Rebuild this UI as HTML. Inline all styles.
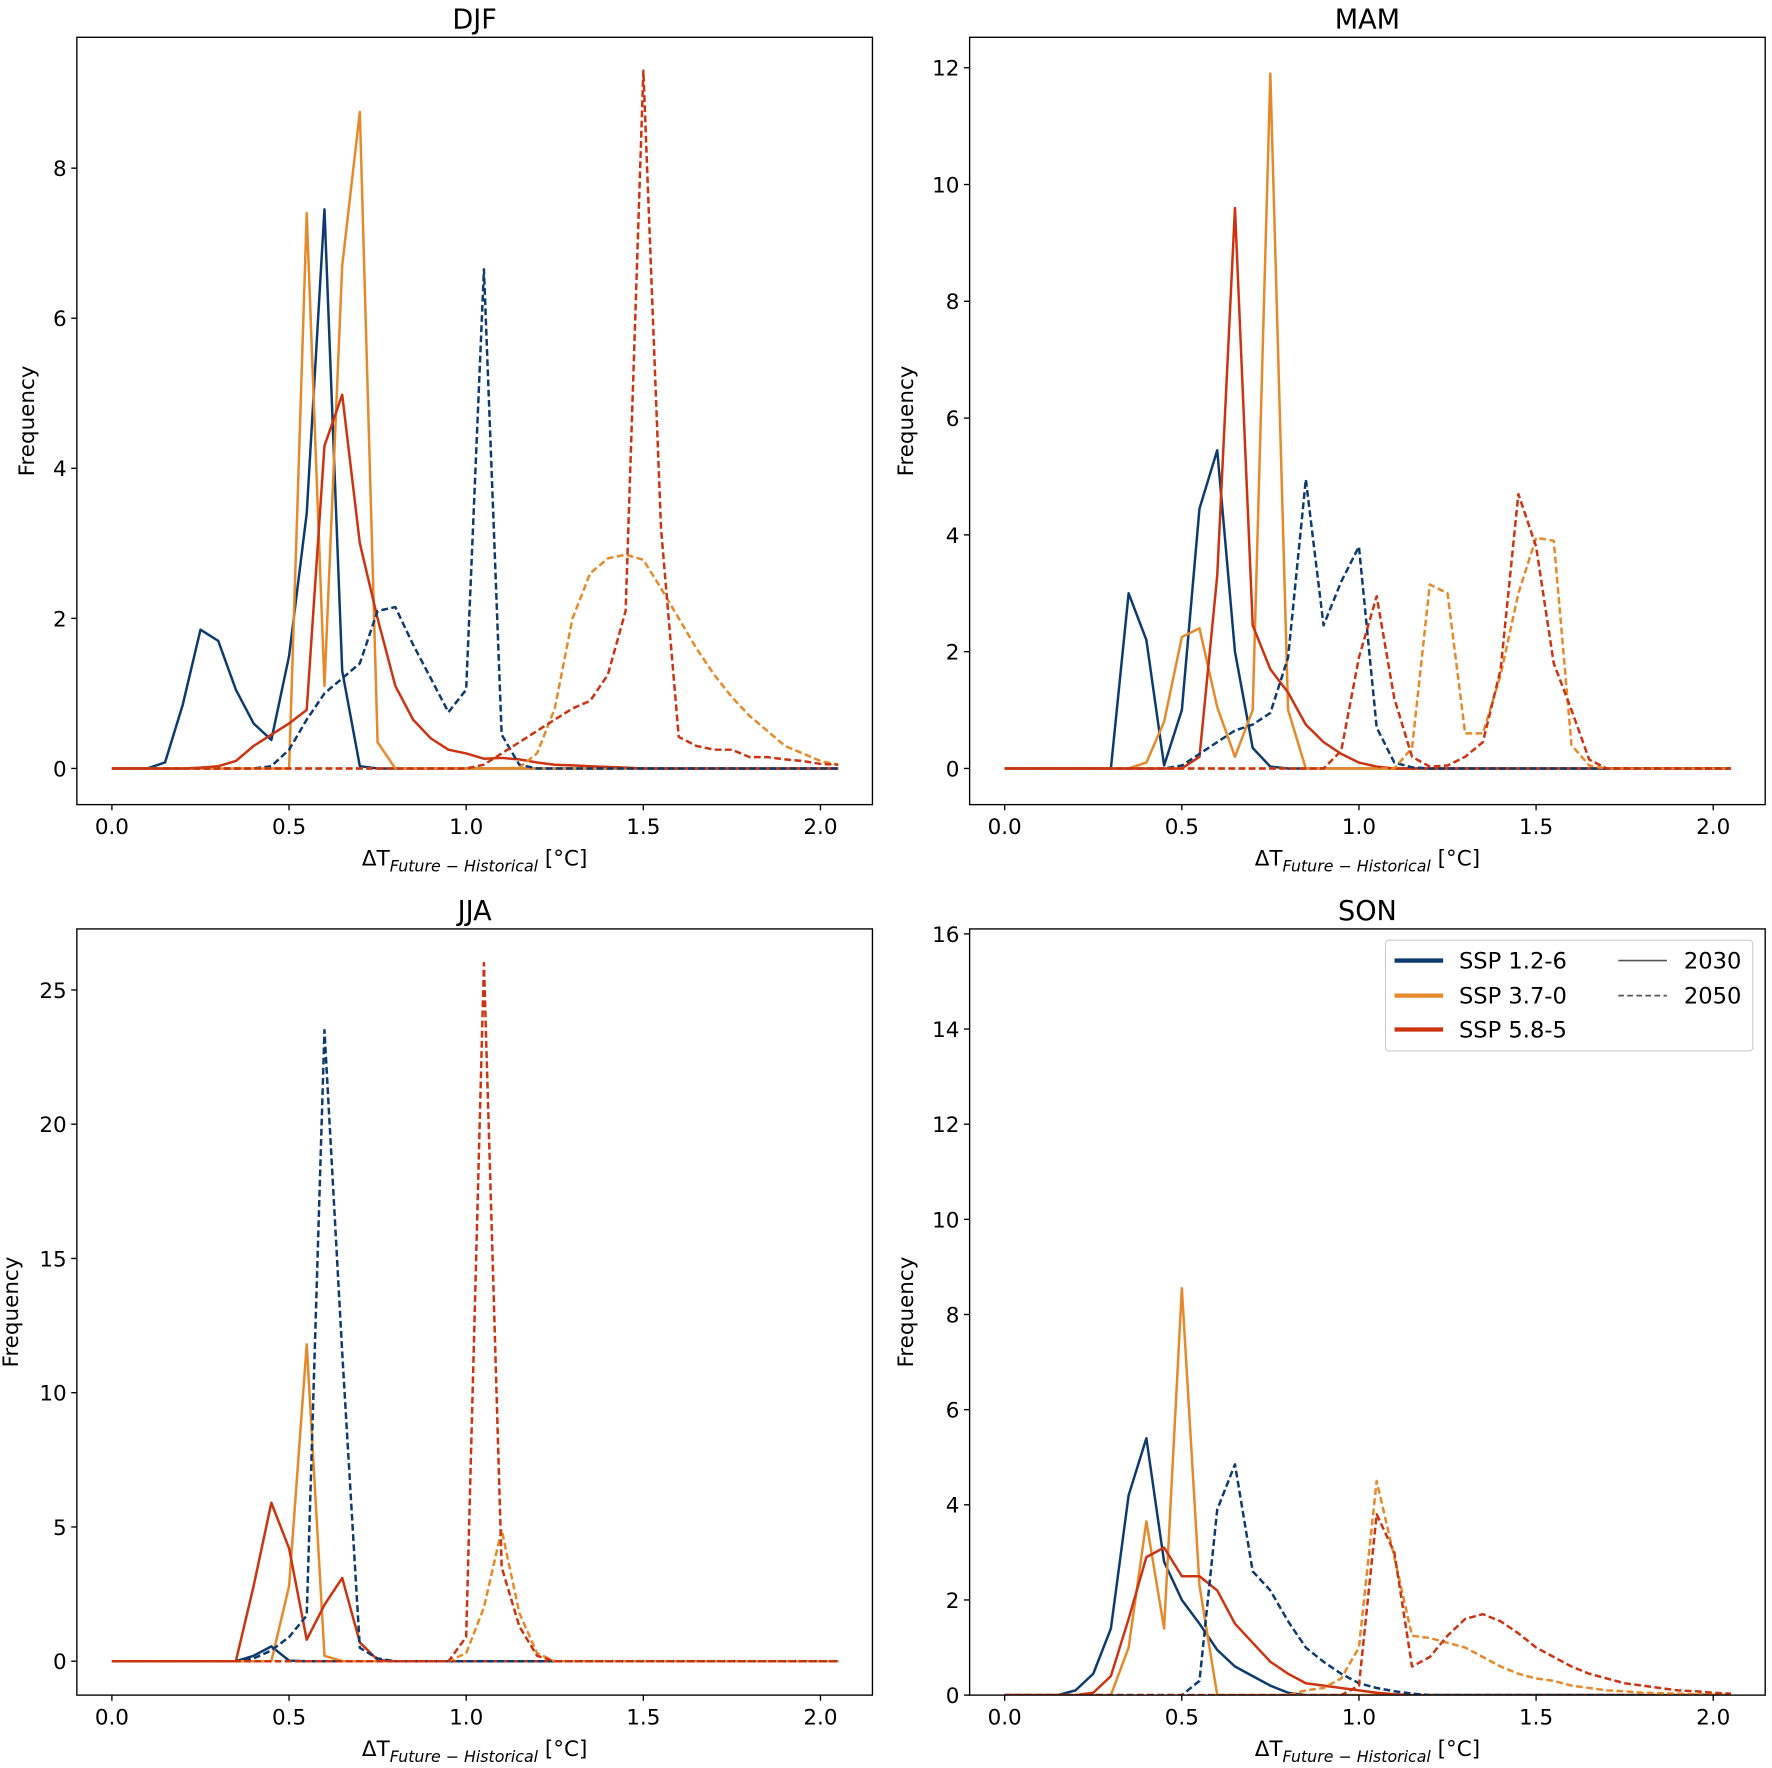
<!DOCTYPE html>
<html><head><meta charset="utf-8"><style>
html,body{margin:0;padding:0;background:#fff;}
svg{display:block;font-family:"DejaVu Sans","Liberation Sans",sans-serif;}
</style></head><body>
<svg id="s" width="1772" height="1768" viewBox="0 0 1568 1564.5" xmlns="http://www.w3.org/2000/svg">
<rect width="1568" height="1565" fill="#fff"/>
<text x="420" y="25" font-size="24" text-anchor="middle">DJF</text>
<text x="1210" y="25" font-size="24" text-anchor="middle">MAM</text>
<text x="420" y="814" font-size="24" text-anchor="middle">JJA</text>
<text x="1210" y="814" font-size="24" text-anchor="middle">SON</text>
</svg>
<script>
const NS="http://www.w3.org/2000/svg";const S=document.getElementById('s');
function el(t,a,txt){const e=document.createElementNS(NS,t);for(const k in a)e.setAttribute(k,a[k]);if(txt!==undefined)e.textContent=txt;S.appendChild(e);return e;}
const B='#0d3b6e',O='#e5892a',R='#cc3311';
const P=[
{l:68,r:772,t:33,b:712,x0:99,xs:313.5,y0:680,ys:66.4,yt:[0,2,4,6,8],yl:30,
 s:[[B,0,{0.1:0,0.15:0.08,0.2:0.85,0.25:1.85,0.3:1.7,0.35:1.05,0.4:0.6,0.45:0.38,0.5:1.5,0.55:3.4,0.6:7.45,0.65:1.3,0.7:0.03}],
 [O,0,{0.55:7.4,0.6:1.1,0.65:6.7,0.7:8.75,0.75:0.35}],
 [R,0,{0.25:0.01,0.3:0.03,0.35:0.1,0.4:0.3,0.45:0.45,0.5:0.6,0.55:0.78,0.6:4.3,0.65:4.98,0.7:3.0,0.75:2.0,0.8:1.1,0.85:0.65,0.9:0.4,0.95:0.25,1.0:0.2,1.05:0.13,1.1:0.14,1.15:0.12,1.2:0.08,1.25:0.05,1.3:0.04,1.35:0.03,1.4:0.02,1.45:0.01}],
 [B,1,{0.45:0.03,0.5:0.25,0.55:0.65,0.6:1.0,0.65:1.2,0.7:1.4,0.75:2.1,0.8:2.15,0.85:1.65,0.9:1.2,0.95:0.75,1.0:1.05,1.05:6.65,1.1:0.45,1.15:0.05}],
 [O,1,{1.15:0.01,1.2:0.2,1.25:0.8,1.3:2.0,1.35:2.6,1.4:2.8,1.45:2.85,1.5:2.78,1.55:2.4,1.6:2.0,1.65:1.6,1.7:1.25,1.75:0.95,1.8:0.7,1.85:0.5,1.9:0.3,1.95:0.2,2.0:0.1,2.05:0.05}],
 [R,1,{1.05:0.05,1.1:0.2,1.15:0.35,1.2:0.5,1.25:0.65,1.3:0.8,1.35:0.9,1.4:1.25,1.45:2.1,1.5:9.3,1.55:3.2,1.6:0.42,1.65:0.3,1.7:0.25,1.75:0.25,1.8:0.15,1.85:0.15,1.9:0.12,1.95:0.1,2.0:0.06,2.05:0.05}]]},
{l:858,r:1562,t:33,b:712,x0:889,xs:313.5,y0:680,ys:51.67,yt:[0,2,4,6,8,10,12],yl:808,
 s:[[B,0,{0.35:3.0,0.4:2.2,0.45:0.05,0.5:1.0,0.55:4.45,0.6:5.45,0.65:2.0,0.7:0.35,0.75:0.03}],
 [O,0,{0.4:0.1,0.45:0.8,0.5:2.25,0.55:2.4,0.6:1.05,0.65:0.2,0.7:1.0,0.75:11.9,0.8:1.0}],
 [R,0,{0.55:0.2,0.6:3.3,0.65:9.6,0.7:2.45,0.75:1.7,0.8:1.3,0.85:0.75,0.9:0.45,0.95:0.25,1.0:0.1,1.05:0.03}],
 [B,1,{0.5:0.05,0.55:0.25,0.6:0.45,0.65:0.65,0.7:0.75,0.75:0.95,0.8:1.9,0.85:4.95,0.9:2.45,0.95:3.2,1.0:3.8,1.05:0.7,1.1:0.1,1.15:0.02}],
 [O,1,{1.15:0.35,1.2:3.15,1.25:3.0,1.3:0.6,1.35:0.6,1.4:1.6,1.45:3.0,1.5:3.95,1.55:3.9,1.6:0.4,1.65:0.05}],
 [R,1,{0.95:0.3,1.0:1.9,1.05:2.95,1.1:1.2,1.15:0.2,1.2:0.03,1.25:0.05,1.3:0.2,1.35:0.45,1.4:1.7,1.45:4.7,1.5:3.8,1.55:1.8,1.6:1.0,1.65:0.15}]]},
{l:68,r:772,t:822,b:1500,x0:99,xs:313.5,y0:1470,ys:23.76,yt:[0,5,10,15,20,25],yl:16,
 s:[[B,0,{0.4:0.2,0.45:0.55,0.5:0.02}],
 [O,0,{0.5:2.8,0.55:11.8,0.6:0.2}],
 [R,0,{0.4:2.8,0.45:5.9,0.5:4.2,0.55:0.8,0.6:2.1,0.65:3.1,0.7:0.7,0.75:0.05}],
 [B,1,{0.4:0.1,0.45:0.4,0.5:0.9,0.55:1.7,0.6:23.5,0.65:11.5,0.7:0.5,0.75:0.1}],
 [O,1,{1.0:0.3,1.05:2.0,1.1:4.9,1.15:1.8,1.2:0.3}],
 [R,1,{1.0:0.9,1.05:26,1.1:3.5,1.15:1.3,1.2:0.2}]]},
{l:858,r:1562,t:822,b:1500,x0:889,xs:313.5,y0:1500,ys:42.1,yt:[0,2,4,6,8,10,12,14,16],yl:808,
 s:[[B,0,{0.2:0.1,0.25:0.45,0.3:1.4,0.35:4.2,0.4:5.4,0.45:2.8,0.5:2.0,0.55:1.5,0.6:0.95,0.65:0.6,0.7:0.4,0.75:0.2,0.8:0.05}],
 [O,0,{0.35:1.0,0.4:3.65,0.45:1.4,0.5:8.55,0.55:2.3}],
 [R,0,{0.25:0.05,0.3:0.4,0.35:1.6,0.4:2.9,0.45:3.1,0.5:2.5,0.55:2.5,0.6:2.2,0.65:1.5,0.7:1.1,0.75:0.7,0.8:0.45,0.85:0.25,0.9:0.2,0.95:0.15,1.0:0.1,1.05:0.05,1.1:0.02}],
 [B,1,{0.55:0.3,0.6:3.9,0.65:4.85,0.7:2.6,0.75:2.2,0.8:1.55,0.85:1.0,0.9:0.7,0.95:0.45,1.0:0.25,1.05:0.15,1.1:0.08,1.15:0.03}],
 [O,1,{0.85:0.1,0.9:0.15,0.95:0.35,1.0:1.0,1.05:4.5,1.1:2.9,1.15:1.25,1.2:1.2,1.25:1.1,1.3:1.0,1.35:0.8,1.4:0.6,1.45:0.45,1.5:0.35,1.55:0.3,1.6:0.2,1.65:0.15,1.7:0.1,1.75:0.08,1.8:0.05,1.85:0.04,1.9:0.03,1.95:0.02,2.0:0.01}],
 [R,1,{1.0:0.2,1.05:3.8,1.1:3.0,1.15:0.6,1.2:0.8,1.25:1.25,1.3:1.6,1.35:1.7,1.4:1.55,1.45:1.3,1.5:1.0,1.55:0.8,1.6:0.6,1.65:0.45,1.7:0.35,1.75:0.25,1.8:0.2,1.85:0.15,1.9:0.1,1.95:0.08,2.0:0.05,2.05:0.03}]]}
];
P.forEach((p,i)=>{
 const cid='c'+i;
 const cp=el('clipPath',{id:cid});const r=document.createElementNS(NS,'rect');
 r.setAttribute('x',p.l);r.setAttribute('y',p.t);r.setAttribute('width',p.r-p.l);r.setAttribute('height',p.b-p.t);cp.appendChild(r);
 p.s.forEach(([c,d,m])=>{
  let pts=[];for(let k=0;k<=41;k++){const x=+(k*0.05).toFixed(2);let v=0;for(const kk in m){if(Math.abs(+kk-x)<1e-6)v=m[kk];}
   pts.push((p.x0+x*p.xs).toFixed(1)+','+(p.y0-v*p.ys).toFixed(1));}
  const a={points:pts.join(' '),fill:'none',stroke:c,'stroke-width':2.2,'stroke-linejoin':'round','clip-path':'url(#'+cid+')'};
  if(d)a['stroke-dasharray']='6,3';el('polyline',a);
 });
 el('rect',{x:p.l,y:p.t,width:p.r-p.l,height:p.b-p.t,fill:'none',stroke:'#000','stroke-width':1.2});
 ['0.0','0.5','1.0','1.5','2.0'].forEach((t,j)=>{const x=p.x0+j*0.5*p.xs;
  el('line',{x1:x,x2:x,y1:p.b,y2:p.b+5,stroke:'#000','stroke-width':1.2});
  el('text',{x:x,y:p.b+26,'font-size':19,'text-anchor':'middle'},t);});
 p.yt.forEach(v=>{const y=p.y0-v*p.ys;
  el('line',{x1:p.l-5,x2:p.l,y1:y,y2:y,stroke:'#000','stroke-width':1.2});
  el('text',{x:p.l-9,y:y+7,'font-size':19,'text-anchor':'end'},String(v));});
 const cx=(p.l+p.r)/2;
 const t=el('text',{x:cx,y:p.b+54,'font-size':19,'text-anchor':'middle'});
 t.innerHTML='ΔT<tspan font-size="14" font-style="italic" dy="5">Future − Historical</tspan><tspan dy="-5"> [°C]</tspan>';
 const yc=(p.t+p.b)/2;
 el('text',{x:p.yl,y:yc,'font-size':19,'text-anchor':'middle',transform:'rotate(-90 '+p.yl+' '+yc+')'},'Frequency');
});
el('rect',{x:1226,y:832,width:325,height:98,rx:3,fill:'#fff',stroke:'#ccc','stroke-width':1});
[[B,'SSP 1.2-6',850],[O,'SSP 3.7-0',881],[R,'SSP 5.8-5',911]].forEach(([c,t,y])=>{
 el('line',{x1:1234,x2:1277,y1:y,y2:y,stroke:c,'stroke-width':3.8});
 el('text',{x:1291,y:y+7,'font-size':20},t);});
el('line',{x1:1432,x2:1475,y1:850,y2:850,stroke:'#555','stroke-width':1.5});
el('text',{x:1490,y:857,'font-size':20},'2030');
el('line',{x1:1432,x2:1475,y1:881,y2:881,stroke:'#555','stroke-width':1.5,'stroke-dasharray':'5,3'});
el('text',{x:1490,y:888,'font-size':20},'2050');
</script>
</body></html>
